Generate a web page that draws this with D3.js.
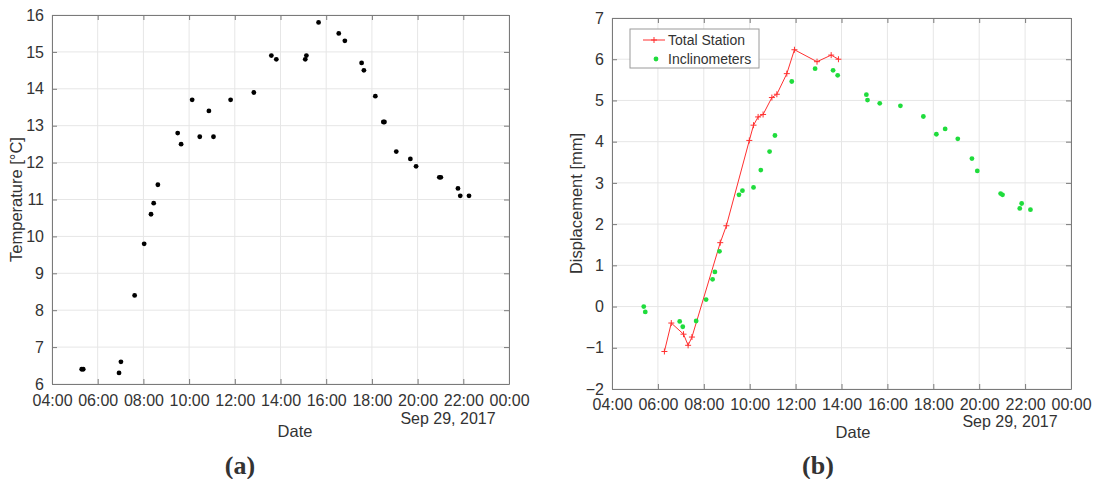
<!DOCTYPE html>
<html>
<head>
<meta charset="utf-8">
<script src="https://cdn.jsdelivr.net/npm/d3@7"></script>
<style>
  body { margin: 0; background: #fff; }
  svg text { font-family: "Liberation Sans", Arial, sans-serif; fill: #333; }
</style>
</head>
<body>
<div id="chart"></div>
<script>
// data (times on Sep 29, 2017)
var tempTimes = ["05:18","05:22","06:56","07:01","07:37","08:02","08:20","08:27","08:38","09:30",
  "09:39","10:08","10:28","10:52","11:04","11:49","12:50","13:36","13:49","15:05","15:08","15:40",
  "16:33","16:49","17:33","17:39","18:09","18:30","18:33","19:04","19:41","19:56","20:57","21:01",
  "21:46","21:52","22:15"];
var tempValues = [6.4,6.4,6.3,6.6,8.4,9.8,10.6,10.9,11.4,12.8,
  12.5,13.7,12.7,13.4,12.7,13.7,13.9,14.9,14.8,14.8,14.9,15.8,
  15.5,15.3,14.7,14.5,13.8,13.1,13.1,12.3,12.1,11.9,11.6,11.6,
  11.3,11.1,11.1];

var stationTimes = ["06:17","06:35","07:07","07:19","07:29","08:43","08:59","09:59","10:10","10:22",
  "10:35","10:58","11:11","11:37","11:57","12:56","13:33","13:52"];
var stationValues = [-1.09,-0.40,-0.67,-0.94,-0.74,1.55,1.96,4.03,4.40,4.60,
  4.66,5.07,5.15,5.65,6.23,5.94,6.10,6.00];

var incliTimes = ["05:23","05:27","06:57","07:05","07:40","08:06","08:23","08:29","08:41","09:32",
  "09:41","10:10","10:29","10:52","11:06","11:50","12:51","13:38","13:50","15:05","15:08","15:40",
  "16:34","17:34","18:08","18:31","19:04","19:41","19:55","20:56","21:01","21:46","21:51","22:14"];
var incliValues = [0.00,-0.13,-0.36,-0.49,-0.35,0.17,0.66,0.84,1.34,2.71,
  2.81,2.89,3.31,3.76,4.15,5.46,5.77,5.73,5.61,5.14,5.01,4.93,
  4.87,4.61,4.18,4.31,4.07,3.59,3.29,2.74,2.71,2.38,2.50,2.35];

var tempTicks = [6,7,8,9,10,11,12,13,14,15,16];
var dispTicks = [-2,-1,0,1,2,3,4,5,6,7];
var hourTicks = [4,6,8,10,12,14,16,18,20,22,24];
var dateLabel = "Sep 29, 2017";

var parseT = function(s) {
  var p = s.split(":");
  return new Date(2017, 8, 29, +p[0], +p[1]);
};
var hourDate = function(h) { return new Date(2017, 8, 29, h, 0); };

var svg = d3.select("#chart").append("svg")
  .attr("width", 1094).attr("height", 479);

// draws the frame, grid, ticks and labels of one panel, returns scales
function panel(box, yDomain, yTicks, yLabel, tag) {
  var x = d3.scaleTime()
    .domain([hourDate(4), hourDate(24)])
    .range([box.left, box.right]);
  var y = d3.scaleLinear().domain(yDomain).range([box.bottom, box.top]);
  var g = svg.append("g");

  // grid
  g.selectAll(".gx").data(hourTicks).enter().append("line")
    .attr("x1", function(d) { return x(hourDate(d)); })
    .attr("x2", function(d) { return x(hourDate(d)); })
    .attr("y1", box.top).attr("y2", box.bottom)
    .attr("stroke", "#e6e6e6");
  g.selectAll(".gy").data(yTicks).enter().append("line")
    .attr("y1", function(d) { return y(d); })
    .attr("y2", function(d) { return y(d); })
    .attr("x1", box.left).attr("x2", box.right)
    .attr("stroke", "#e6e6e6");

  // axes with inward ticks
  var fmt = function(d) { return d3.timeFormat("%H:%M")(d); };
  var xb = g.append("g").attr("transform", "translate(0," + box.bottom + ")")
    .call(d3.axisBottom(x).tickValues(hourTicks.map(hourDate)).tickFormat(fmt)
      .tickSizeInner(-5).tickSizeOuter(0).tickPadding(box.tickPad));
  g.append("g").attr("transform", "translate(0," + box.top + ")")
    .call(d3.axisTop(x).tickValues(hourTicks.map(hourDate)).tickFormat("")
      .tickSizeInner(-5).tickSizeOuter(0));
  g.append("g").attr("transform", "translate(" + box.left + ",0)")
    .call(d3.axisLeft(y).tickValues(yTicks).tickSizeInner(-5).tickSizeOuter(0).tickPadding(8));
  g.append("g").attr("transform", "translate(" + box.right + ",0)")
    .call(d3.axisRight(y).tickValues(yTicks).tickFormat("").tickSizeInner(-5).tickSizeOuter(0));

  g.selectAll(".domain").attr("stroke", "#7a7a7a");
  g.selectAll(".tick line").attr("stroke", "#7a7a7a");
  g.selectAll(".tick text").style("font-size", "16px").attr("fill", "#333")
    .style("font-family", "'Liberation Sans', Arial, sans-serif");
  // last x label '00:00' of the next day
  xb.selectAll(".tick text").filter(function(d, i) { return i === hourTicks.length - 1; })
    .text("00:00");

  g.append("text").attr("x", box.dateX).attr("y", box.dateY)
    .attr("text-anchor", "middle").style("font-size", "16.5px").text("Date");
  g.append("text").attr("x", box.right - 61).attr("y", box.sepY)
    .attr("text-anchor", "middle").style("font-size", "16px").text(dateLabel);
  g.append("text")
    .attr("transform", "translate(" + box.ylabX + "," + ((box.top + box.bottom) / 2) + ") rotate(-90)")
    .attr("text-anchor", "middle").style("font-size", "16.5px").text(yLabel);

  svg.append("text").attr("x", box.tagX).attr("y", 474)
    .attr("text-anchor", "middle")
    .style("font-family", "'Liberation Serif', 'DejaVu Serif', serif")
    .style("font-weight", "bold").style("font-size", "26px").attr("fill", "#111")
    .text(tag);

  return { x: x, y: y, g: g };
}

// (a) temperature
var a = panel({ left: 52, right: 509, top: 15, bottom: 384, tickPad: 11,
    dateX: 295, dateY: 437, sepY: 424, ylabX: 22, tagX: 240 },
  [6, 16], tempTicks, "Temperature [°C]", "(a)");
a.g.selectAll(".tdot").data(tempValues).enter().append("circle")
  .attr("cx", function(d, i) { return a.x(parseT(tempTimes[i])); })
  .attr("cy", function(d) { return a.y(d); })
  .attr("r", 2.4).attr("fill", "#000");

// (b) displacement
var b = panel({ left: 612, right: 1071, top: 18, bottom: 389, tickPad: 10,
    dateX: 853, dateY: 438, sepY: 427, ylabX: 582, tagX: 818 },
  [-2, 7], dispTicks, "Displacement [mm]", "(b)");

var line = d3.line()
  .x(function(d, i) { return b.x(parseT(stationTimes[i])); })
  .y(function(d) { return b.y(d); });
b.g.append("path").datum(stationValues).attr("d", line)
  .attr("fill", "none").attr("stroke", "#ff3030").attr("stroke-width", 1);
b.g.selectAll(".plus").data(stationValues).enter().append("path")
  .attr("transform", function(d, i) {
    return "translate(" + b.x(parseT(stationTimes[i])) + "," + b.y(d) + ")";
  })
  .attr("d", "M-3,0H3M0,-3V3").attr("stroke", "#ff3030").attr("stroke-width", 1);

b.g.selectAll(".gdot").data(incliValues).enter().append("circle")
  .attr("cx", function(d, i) { return b.x(parseT(incliTimes[i])); })
  .attr("cy", function(d) { return b.y(d); })
  .attr("r", 2.4).attr("fill", "#1fdc3c");

// legend
var lg = b.g.append("g");
lg.append("rect").attr("x", 630).attr("y", 29).attr("width", 129).attr("height", 39)
  .attr("fill", "#fff").attr("stroke", "#9a9a9a");
lg.append("line").attr("x1", 643).attr("x2", 665).attr("y1", 40).attr("y2", 40)
  .attr("stroke", "#ff3030");
lg.append("path").attr("d", "M651,40H657M654,37V43").attr("stroke", "#ff3030");
lg.append("circle").attr("cx", 656).attr("cy", 59).attr("r", 2.4).attr("fill", "#1fdc3c");
lg.append("text").attr("x", 668).attr("y", 45).style("font-size", "14px").text("Total Station");
lg.append("text").attr("x", 668).attr("y", 64).style("font-size", "14px").text("Inclinometers");
</script>
</body>
</html>
